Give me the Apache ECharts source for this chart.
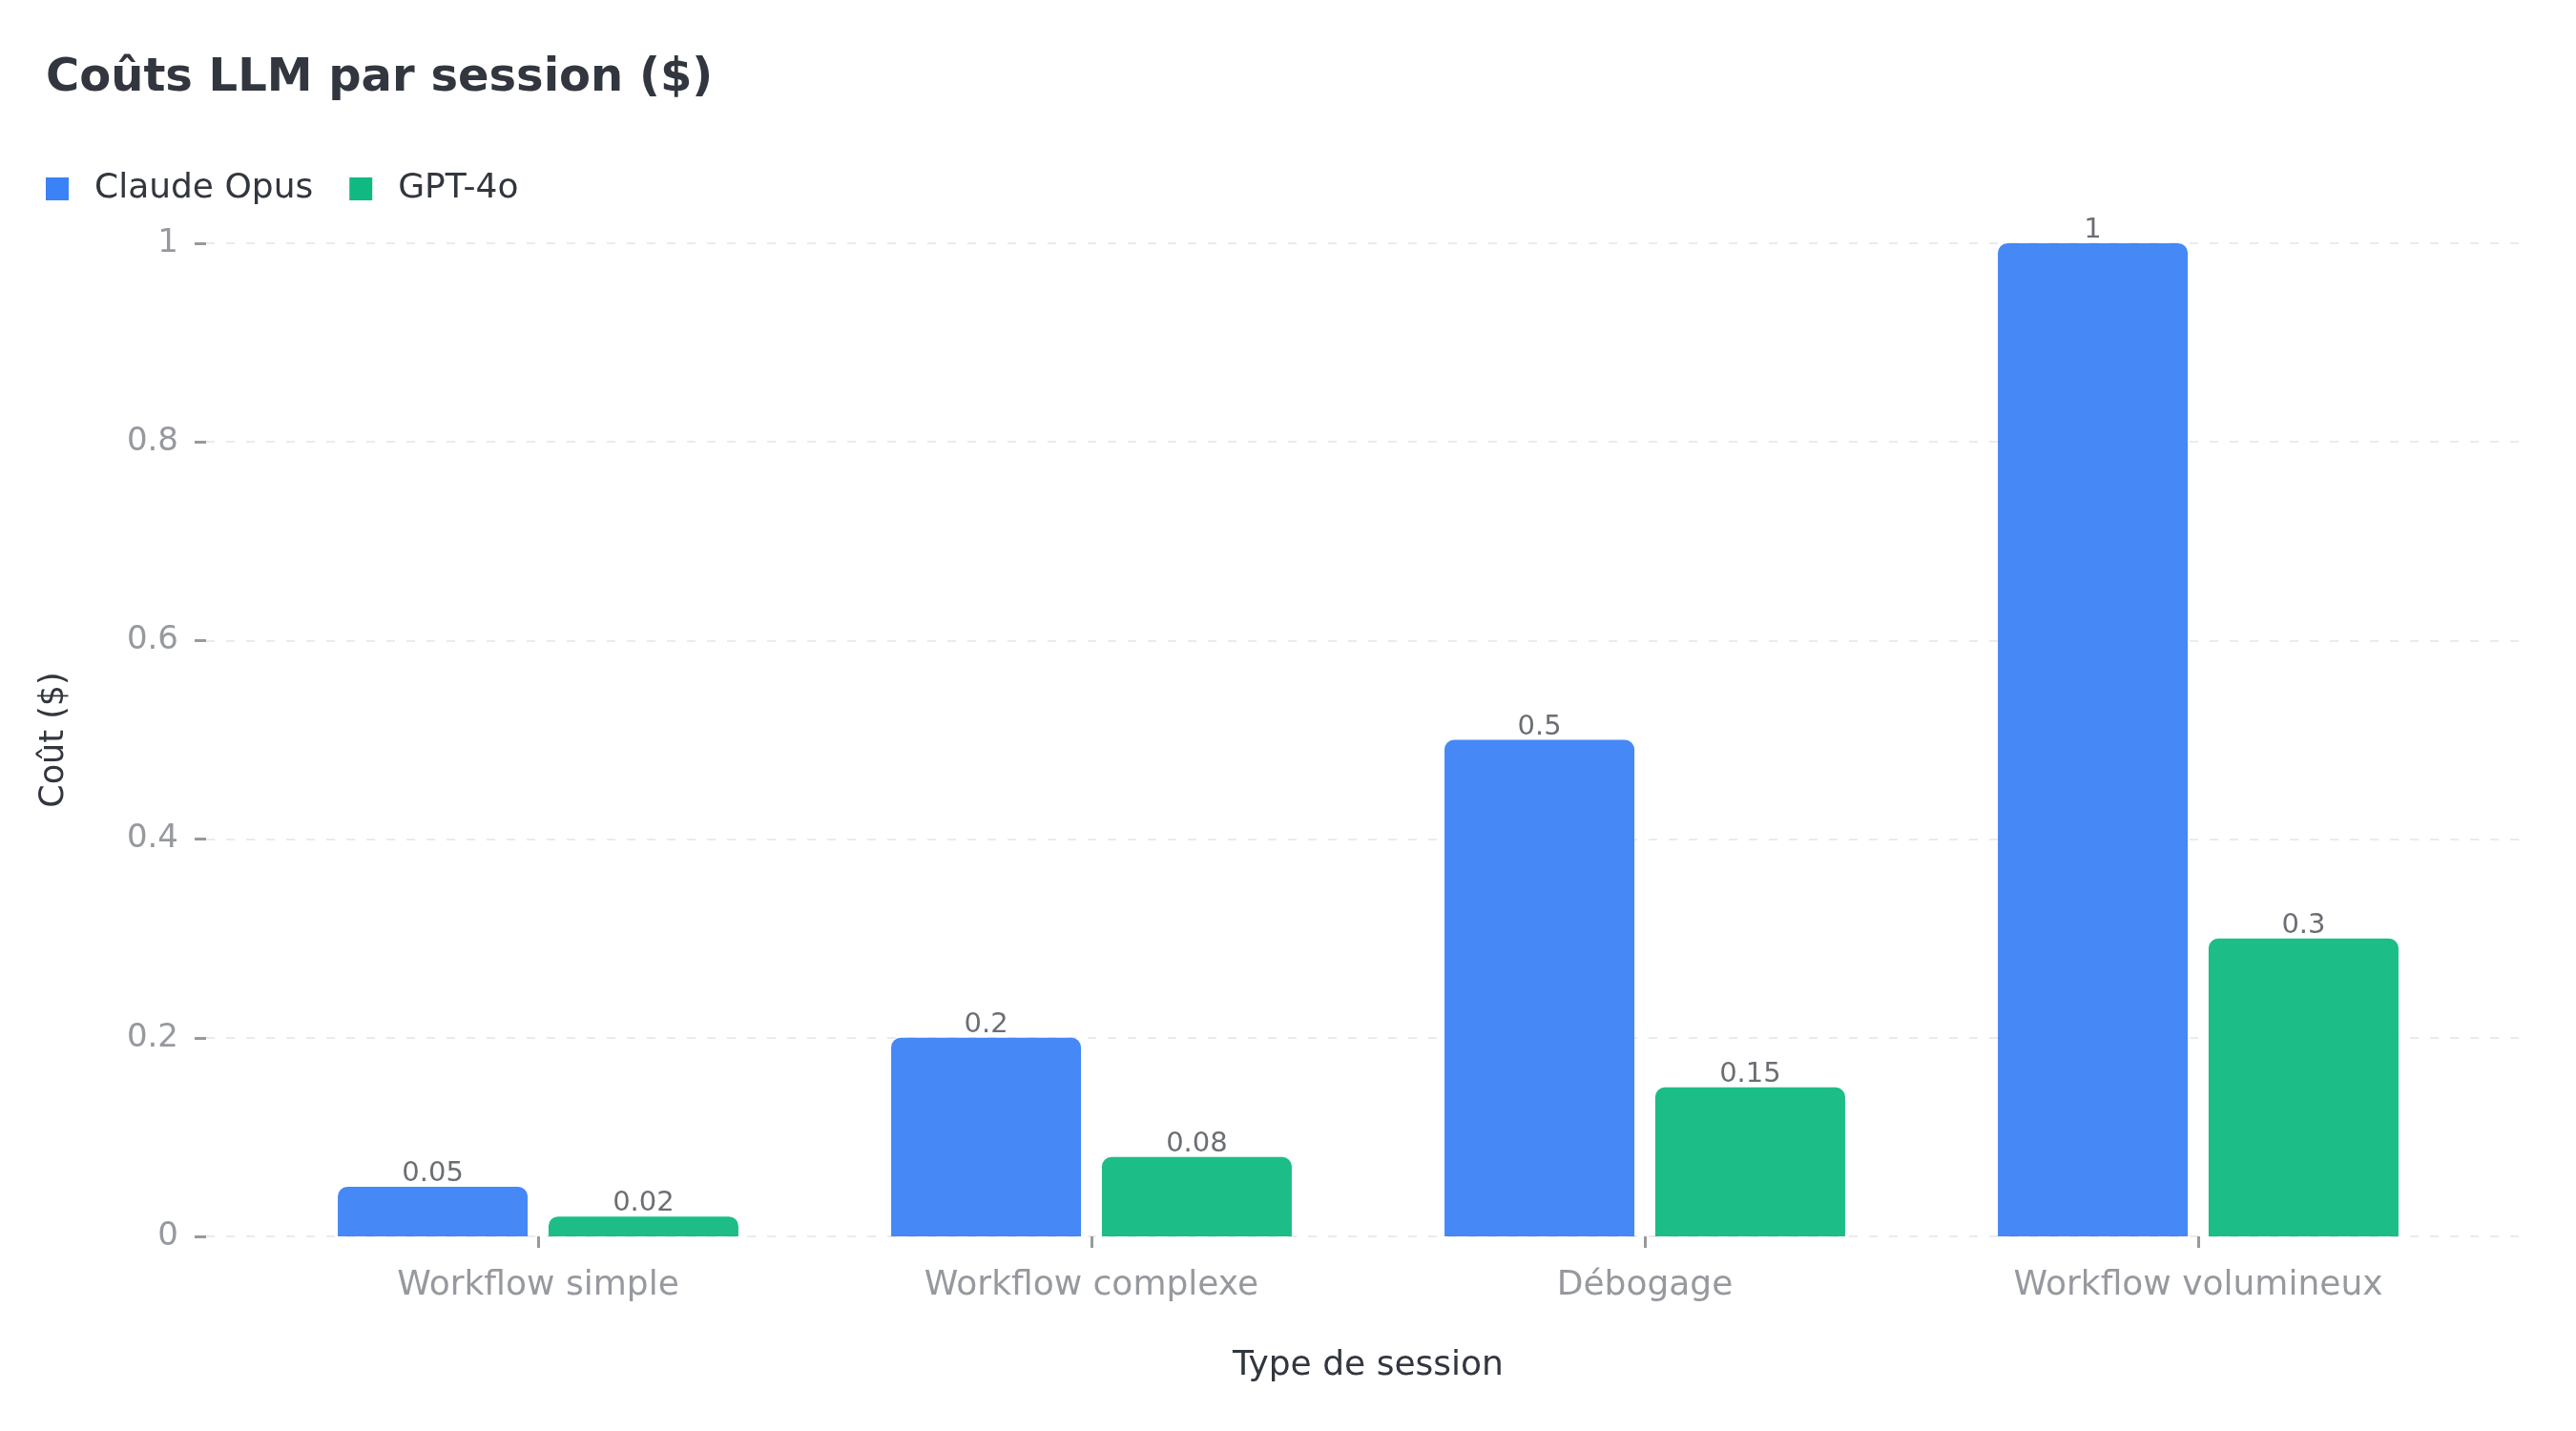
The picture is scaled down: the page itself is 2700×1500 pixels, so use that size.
<!DOCTYPE html>
<html>
<head>
<meta charset="utf-8">
<script src="https://cdn.jsdelivr.net/npm/echarts@6/dist/echarts.min.js"></script>
<style>
  html, body { margin: 0; padding: 0; background: #fff; }
  #chart { width: 2700px; height: 1500px; }
</style>
</head>
<body>
<div id="chart"></div>
<script>
// Données
const categories = ["Workflow simple", "Workflow complexe", "Débogage", "Workflow volumineux"];
const claudeOpus = [0.05, 0.2, 0.5, 1];
const gpt4o = [0.02, 0.08, 0.15, 0.3];
const yTicks = [0, 0.2, 0.4, 0.6, 0.8, 1];

const font = "DejaVu Sans";
const gridTop = 255;
const gridBottom = 204;

const chart = echarts.init(document.getElementById("chart"));

const barLabel = {
  show: true,
  position: "top",
  distance: -1,
  color: "#63666c",
  fontSize: 29,
  fontFamily: font,
};

chart.setOption({
  animation: false,
  textStyle: { fontFamily: font },
  title: {
    text: "Coûts LLM par session ($)",
    left: 43,
    top: 54,
    textStyle: { fontSize: 48, fontWeight: "bold", color: "#32363e", fontFamily: font },
  },
  legend: {
    left: 43,
    top: 175,
    itemWidth: 24,
    itemHeight: 24,
    itemGap: 38,
    icon: "rect",
    itemStyle: { opacity: 1 },
    textStyle: { fontSize: 36, color: "#32363e", fontFamily: font, padding: [0, 0, 0, 22] },
    data: ["Claude Opus", "GPT-4o"],
  },
  grid: [
    // grille pour l'axe Y et les lignes pointillées
    { left: 216, right: 57, top: gridTop, bottom: gridBottom },
    // grille pour les barres
    { left: 274, right: 106, top: gridTop, bottom: gridBottom },
  ],
  xAxis: [
    { gridIndex: 0, type: "value", show: false, min: 0, max: 1 },
    {
      gridIndex: 1,
      type: "category",
      data: categories,
      axisLine: { show: false },
      axisTick: { show: true, alignWithLabel: true, length: 12, lineStyle: { color: "#999", width: 3 } },
      axisLabel: { fontSize: 36, color: "#96999e", margin: 34, fontFamily: font },
      name: "Type de session",
      nameLocation: "middle",
      nameGap: 118,
      nameTextStyle: { fontSize: 36, color: "#32363e", fontFamily: font },
      splitLine: { show: false },
    },
  ],
  yAxis: [
    {
      gridIndex: 0,
      type: "value",
      min: yTicks[0],
      max: yTicks[yTicks.length - 1],
      interval: 0.2,
      axisLine: { show: false },
      axisTick: { show: true, length: 12, lineStyle: { color: "#999", width: 3 } },
      axisLabel: { fontSize: 34, color: "#96999e", margin: 29, fontFamily: font },
      splitLine: { show: true, lineStyle: { color: "#ebebeb", width: 2, type: [9, 12] } },
      name: "Coût ($)",
      nameLocation: "middle",
      nameGap: 142,
      nameTextStyle: { fontSize: 35, color: "#32363e", fontFamily: font },
    },
    {
      gridIndex: 1,
      type: "value",
      min: 0,
      max: 1,
      show: false,
      splitLine: { show: false },
    },
  ],
  series: [
    {
      name: "Claude Opus",
      type: "bar",
      xAxisIndex: 1,
      yAxisIndex: 1,
      data: claudeOpus,
      barWidth: 199,
      barGap: "11%",
      itemStyle: { color: "#3b82f6", opacity: 0.95, borderRadius: [10, 10, 0, 0] },
      label: barLabel,
    },
    {
      name: "GPT-4o",
      type: "bar",
      xAxisIndex: 1,
      yAxisIndex: 1,
      data: gpt4o,
      barWidth: 199,
      barGap: "11%",
      itemStyle: { color: "#10b981", opacity: 0.95, borderRadius: [10, 10, 0, 0] },
      label: barLabel,
    },
  ],
});
</script>
</body>
</html>
